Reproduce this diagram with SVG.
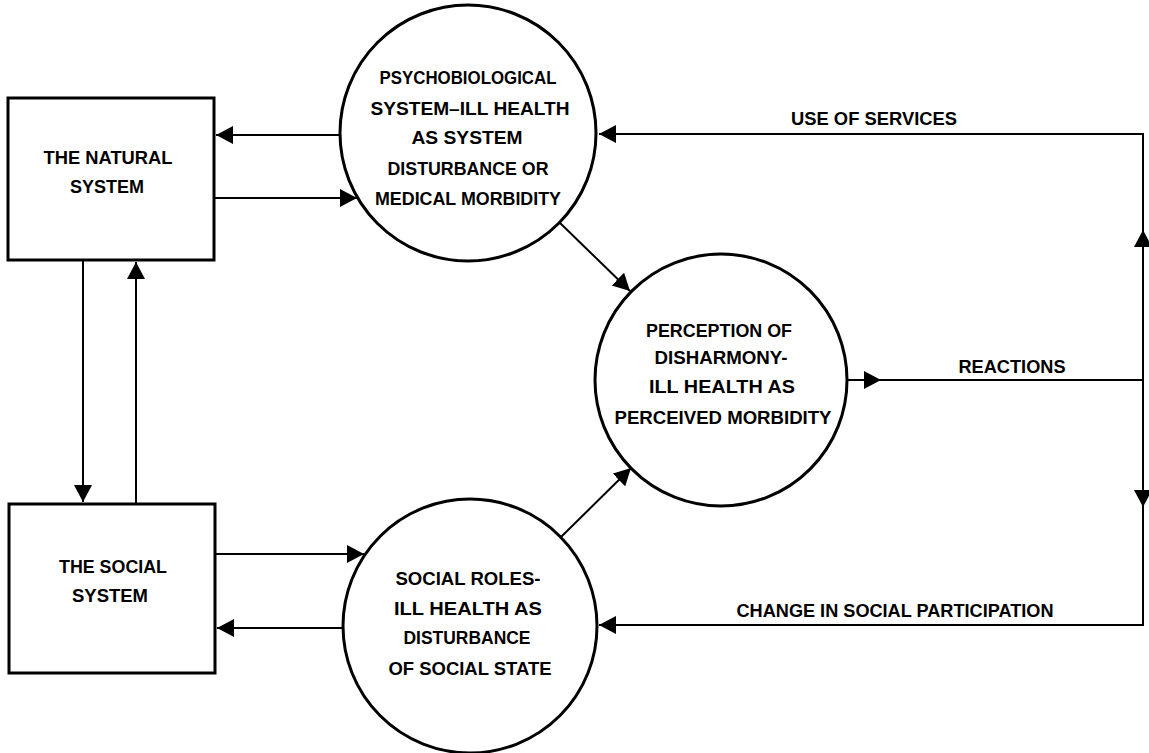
<svg xmlns="http://www.w3.org/2000/svg" width="1149" height="753" viewBox="0 0 1149 753">
<defs>
<style>
.node{fill:#fff;stroke:#000;stroke-width:3}
.t{font-family:"Liberation Sans",Arial,sans-serif;font-size:17.5px;font-weight:bold;fill:#000;text-anchor:middle}
.c{stroke:#000;stroke-width:2;fill:none}
</style>
<marker id="ah" markerUnits="userSpaceOnUse" markerWidth="19" markerHeight="20" refX="17" refY="9" orient="auto">
<path d="M0,0 L17,9 L0,18 z" fill="#000"/>
</marker>
</defs>
<rect width="1149" height="753" fill="#fff"/>
<g id="connectors">
<line class="c" x1="340" y1="135" x2="216" y2="135" marker-end="url(#ah)"/>
<line class="c" x1="214" y1="198" x2="357" y2="198" marker-end="url(#ah)"/>
<line class="c" x1="83" y1="260" x2="83" y2="502" marker-end="url(#ah)"/>
<line class="c" x1="136" y1="504" x2="136" y2="262" marker-end="url(#ah)"/>
<line class="c" x1="559" y1="222" x2="630" y2="291" marker-end="url(#ah)"/>
<line class="c" x1="561" y1="537" x2="631" y2="468" marker-end="url(#ah)"/>
<line class="c" x1="215" y1="554" x2="364" y2="554" marker-end="url(#ah)"/>
<line class="c" x1="344" y1="628" x2="217" y2="628" marker-end="url(#ah)"/>
<line class="c" x1="847" y1="380" x2="881" y2="380" marker-end="url(#ah)"/>
<line class="c" x1="875" y1="380" x2="1143" y2="380"/>
<line class="c" x1="1143" y1="380" x2="1143" y2="230" marker-end="url(#ah)"/>
<line class="c" x1="1143" y1="234" x2="1143" y2="134"/>
<line class="c" x1="1144" y1="134" x2="599" y2="134" marker-end="url(#ah)"/>
<line class="c" x1="1143" y1="380" x2="1143" y2="507" marker-end="url(#ah)"/>
<line class="c" x1="1143" y1="503" x2="1143" y2="625"/>
<line class="c" x1="1144" y1="625" x2="599" y2="625" marker-end="url(#ah)"/>
<text class="t" x="874" y="124.5" textLength="166" lengthAdjust="spacingAndGlyphs">USE OF SERVICES</text>
<text class="t" x="1012" y="372.5" textLength="107" lengthAdjust="spacingAndGlyphs">REACTIONS</text>
<text class="t" x="895" y="616.5" textLength="317" lengthAdjust="spacingAndGlyphs">CHANGE IN SOCIAL PARTICIPATION</text>
</g>
<g id="natural">
<rect class="node" x="8" y="98" width="206" height="162"/>
<text class="t" x="108" y="163.5" textLength="129" lengthAdjust="spacingAndGlyphs">THE NATURAL</text>
<text class="t" x="107" y="192.5" textLength="74" lengthAdjust="spacingAndGlyphs">SYSTEM</text>
</g>
<g id="social">
<rect class="node" x="9" y="504" width="206" height="169"/>
<text class="t" x="113" y="572.5" textLength="108" lengthAdjust="spacingAndGlyphs">THE SOCIAL</text>
<text class="t" x="110" y="601.5" textLength="76" lengthAdjust="spacingAndGlyphs">SYSTEM</text>
</g>
<g id="psycho">
<circle class="node" cx="468" cy="133" r="128"/>
<text class="t" x="468" y="83.5" textLength="177" lengthAdjust="spacingAndGlyphs">PSYCHOBIOLOGICAL</text>
<text class="t" x="470" y="114.5" textLength="199" lengthAdjust="spacingAndGlyphs">SYSTEM–ILL HEALTH</text>
<text class="t" x="467" y="143.5" textLength="111" lengthAdjust="spacingAndGlyphs">AS SYSTEM</text>
<text class="t" x="468" y="174.5" textLength="161" lengthAdjust="spacingAndGlyphs">DISTURBANCE OR</text>
<text class="t" x="468" y="204.5" textLength="186" lengthAdjust="spacingAndGlyphs">MEDICAL MORBIDITY</text>
</g>
<g id="perception">
<circle class="node" cx="721" cy="380" r="126"/>
<text class="t" x="719" y="336.5" textLength="146" lengthAdjust="spacingAndGlyphs">PERCEPTION OF</text>
<text class="t" x="721" y="363.5" textLength="133" lengthAdjust="spacingAndGlyphs">DISHARMONY-</text>
<text class="t" x="722" y="392.5" textLength="146" lengthAdjust="spacingAndGlyphs">ILL HEALTH AS</text>
<text class="t" x="723" y="423.5" textLength="217" lengthAdjust="spacingAndGlyphs">PERCEIVED MORBIDITY</text>
</g>
<g id="roles">
<circle class="node" cx="470" cy="626" r="127"/>
<text class="t" x="468" y="584.5" textLength="145" lengthAdjust="spacingAndGlyphs">SOCIAL ROLES-</text>
<text class="t" x="468" y="614.5" textLength="148" lengthAdjust="spacingAndGlyphs">ILL HEALTH AS</text>
<text class="t" x="467" y="643.5" textLength="127" lengthAdjust="spacingAndGlyphs">DISTURBANCE</text>
<text class="t" x="470" y="674.5" textLength="163" lengthAdjust="spacingAndGlyphs">OF SOCIAL STATE</text>
</g>
</svg>
